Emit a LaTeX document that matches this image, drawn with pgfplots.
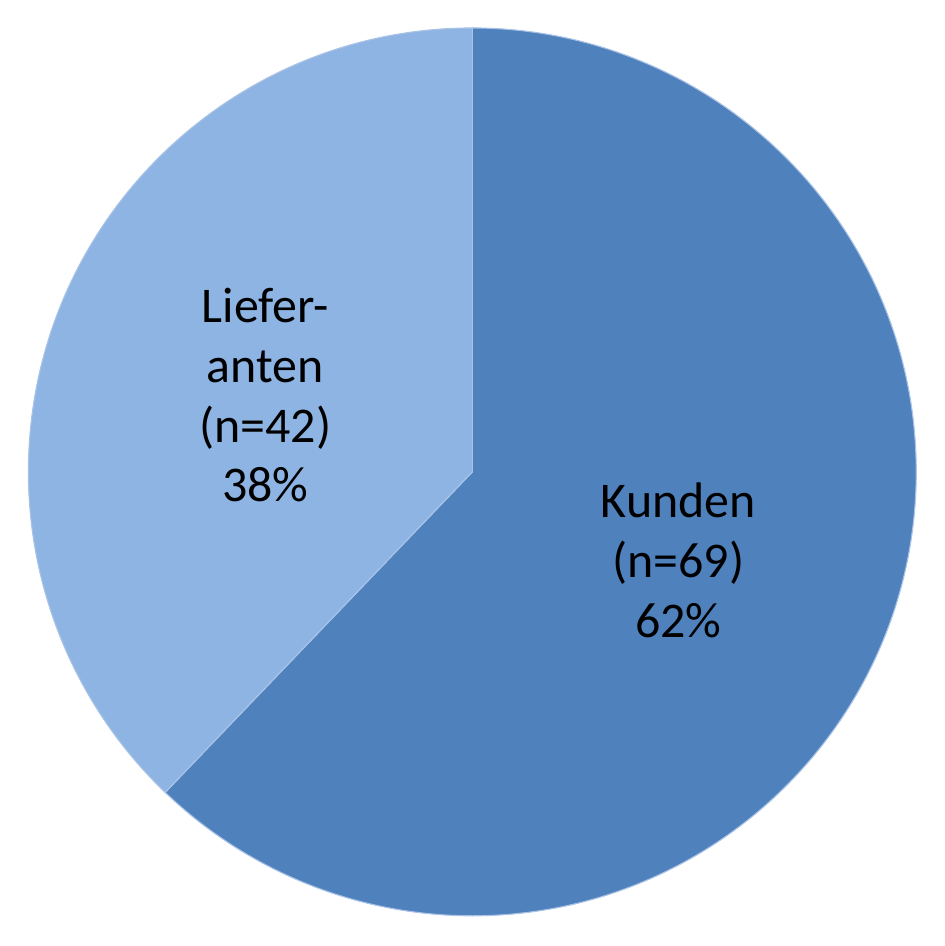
\documentclass[border=0pt]{standalone}
\usepackage{pgfplots}
\pgfplotsset{compat=1.18}
\usepackage{fontspec}
\setmainfont{Carlito}
\definecolor{kunden}{HTML}{4F81BD}
\definecolor{liefer}{HTML}{8EB4E3}
\definecolor{edge}{HTML}{A9C3E6}
\begin{document}
\begin{tikzpicture}
\def\vKunden{69}
\def\vLiefer{42}
\pgfmathsetmacro{\total}{\vKunden+\vLiefer}
\pgfmathsetmacro{\aK}{90-\vKunden/\total*360}
\begin{axis}[
  x=160pt, y=160pt,
  xmin=-1.064, xmax=1.064, ymin=-1.068, ymax=1.063,
  hide axis, clip=false,
]
\addplot[draw=none, forget plot] coordinates {(-1.064,-1.068) (1.064,1.063)};
\fill[kunden, draw=edge, line width=0.4pt] (axis cs:0,0) -- (axis cs:0,1) arc[start angle=90, end angle=\aK, radius=160pt] -- cycle;
\fill[liefer, draw=edge, line width=0.4pt] (axis cs:0,0) -- (axis cs:0,1) arc[start angle=90, end angle=\aK+360, radius=160pt] -- cycle;
\node[align=center, font=\fontsize{18}{21.6}\selectfont] at (axis cs:0.464,-0.200) {Kunden\\(n=69)\\62\%};
\node[align=center, font=\fontsize{18}{21.6}\selectfont] at (axis cs:-0.466,0.173) {Liefer-\\anten\\(n=42)\\38\%};
\end{axis}
\end{tikzpicture}
\end{document}
